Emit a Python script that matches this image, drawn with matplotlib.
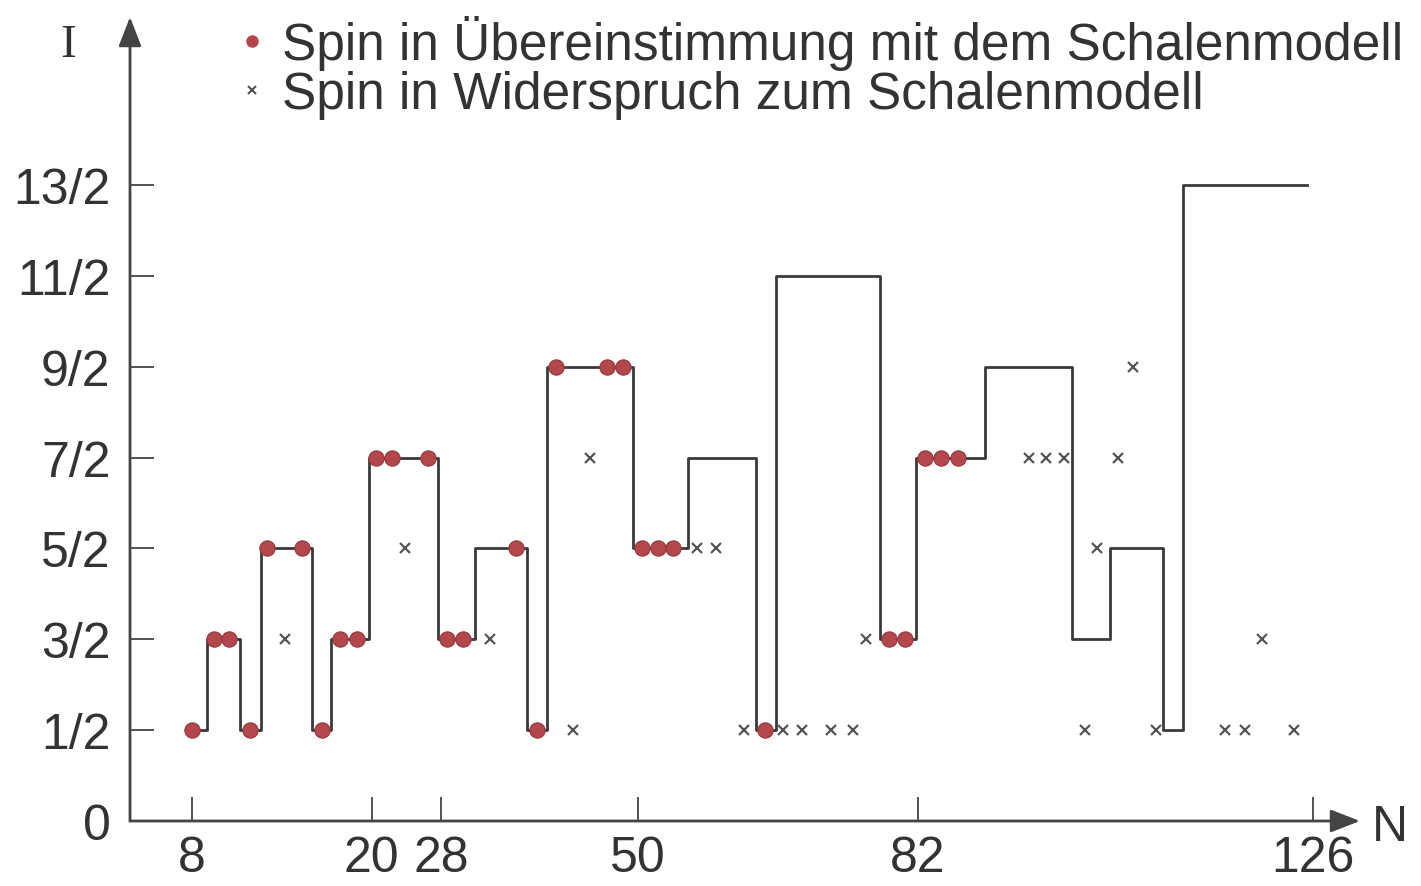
import matplotlib
matplotlib.use("Agg")
import matplotlib.pyplot as plt
import numpy as np
from matplotlib.lines import Line2D

# shell model prediction (step line), N where each level starts
step_N = [8.0, 9.0, 11.2, 12.6, 16.0, 17.3, 19.8, 27.6, 31.8, 37.6, 39.8, 49.4,
          55.7, 63.5, 65.8, 77.7, 81.8, 89.5, 99.2, 103.4, 109.3, 111.5, 125.3]
step_I = [0.5, 1.5, 0.5, 2.5, 0.5, 1.5, 3.5, 1.5, 2.5, 0.5, 4.5, 2.5,
          3.5, 0.5, 5.5, 1.5, 3.5, 4.5, 1.5, 2.5, 0.5, 6.5, 6.5]

# measured spins that agree with the shell model
agree_N = [8.0, 9.5, 10.5, 11.9, 13.0, 15.35, 16.7, 17.9, 19.0, 20.5, 22.4, 26.5,
           28.7, 30.5, 36.4, 38.7, 40.8, 46.5, 48.3, 50.4, 52.3, 54.0, 64.5,
           78.7, 80.5, 82.8, 84.6, 86.5]
agree_I = [0.5, 1.5, 1.5, 0.5, 2.5, 2.5, 0.5, 1.5, 1.5, 3.5, 3.5, 3.5,
           1.5, 1.5, 2.5, 0.5, 4.5, 4.5, 4.5, 2.5, 2.5, 2.5, 0.5,
           1.5, 1.5, 3.5, 3.5, 3.5]

# measured spins that contradict it
disagree_N = [14.2, 23.9, 33.5, 42.7, 44.6, 56.7, 58.9, 62.1, 66.6, 68.7, 72.1,
              74.6, 76.1, 94.4, 96.3, 98.3, 100.6, 101.9, 104.3, 106.0, 108.5,
              116.2, 118.4, 120.3, 123.9]
disagree_I = [1.5, 2.5, 1.5, 0.5, 3.5, 2.5, 2.5, 0.5, 0.5, 0.5, 0.5,
              0.5, 1.5, 3.5, 3.5, 3.5, 0.5, 2.5, 3.5, 4.5, 0.5,
              0.5, 0.5, 1.5, 0.5]

magic_N = [8, 20, 28, 50, 82, 126]
spin_ticks = [-0.5, 0.5, 1.5, 2.5, 3.5, 4.5, 5.5, 6.5]
spin_labels = ["0", "1/2", "3/2", "5/2", "7/2", "9/2", "11/2", "13/2"]

legend_labels = ["Spin in Übereinstimmung mit dem Schalenmodell",
                 "Spin in Widerspruch zum Schalenmodell"]

# the N axis is not linear in the original (8..20 is stretched)
scale_N = [-20, 8, 20, 28, 50, 82, 126, 160]
scale_pos = [-60, 192, 371.5, 441, 638, 918, 1313, 1619]


def forward(n):
    return np.interp(n, scale_N, scale_pos)


def inverse(p):
    return np.interp(p, scale_pos, scale_N)


def main():
    plt.rcParams["font.family"] = ["Liberation Sans", "DejaVu Sans"]
    line_col = "#3a3a3a"
    red = "#b4474b"

    fig = plt.figure(figsize=(14.21, 8.87), dpi=100)
    W, H = 1421, 887
    ax = fig.add_axes([130 / W, 65 / H, 1230 / W, 804 / H])
    ax.set_xscale("function", functions=(forward, inverse))
    ax.set_xlim(inverse(130), inverse(1360))
    ax.set_ylim(-0.5, -0.5 + 804 / 90.86)

    ax.step(step_N, step_I, where="post", color=line_col, lw=2.0, zorder=2)
    ax.plot(agree_N, agree_I, "o", color=red, mec="#8e3a3d", mew=0.8,
            ms=11, zorder=3)
    ax.plot(disagree_N, disagree_I, "x", color="#555555", ms=7, mew=1.6,
            zorder=3)

    for s in ax.spines.values():
        s.set_visible(False)
    arrow = dict(arrowstyle="-|>,head_length=0.9,head_width=0.35",
                 color="#444444", lw=2, mutation_scale=20, shrinkA=0, shrinkB=0)
    ax.annotate("", xy=(0, 1), xytext=(0, 0), xycoords="axes fraction",
                arrowprops=arrow)
    ax.annotate("", xy=(1, 0), xytext=(0, 0), xycoords="axes fraction",
                arrowprops=arrow)

    ax.set_xticks(magic_N)
    ax.set_xticklabels([str(n) for n in magic_N])
    ax.set_yticks(spin_ticks)
    ax.set_yticklabels(spin_labels)
    ax.xaxis.set_minor_locator(plt.NullLocator())
    ax.tick_params(axis="both", direction="in", length=17, width=1.3,
                   color="#444444", labelsize=36, labelcolor="#333333")
    ax.tick_params(axis="x", pad=10)
    ax.tick_params(axis="y", pad=14)

    fig.text(68 / W, 1 - 46 / H, "I", fontsize=34, family="Liberation Serif",
             ha="center", va="center", color="#333333")
    fig.text(1390 / W, 1 - 828 / H, "N", fontsize=36, ha="center",
             va="center", color="#333333")

    handles = [Line2D([], [], marker="o", ls="", color=red, ms=8),
               Line2D([], [], marker="x", ls="", color="#555555", ms=6, mew=1.5)]
    fig.legend(handles, legend_labels, loc="upper left",
               bbox_to_anchor=(238 / W, 1 - 16 / H), frameon=False,
               fontsize=37, handlelength=0.55, handletextpad=0.3,
               labelspacing=0.0, borderpad=0, borderaxespad=0,
               labelcolor="#333333")

    fig.savefig("out.png", dpi=100)


if __name__ == "__main__":
    main()
